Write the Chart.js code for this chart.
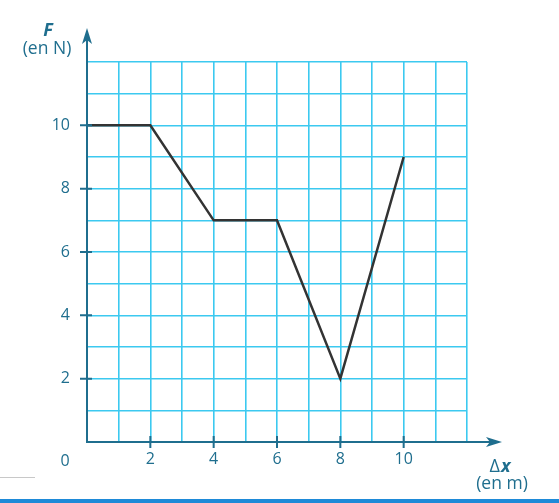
<!DOCTYPE html>
<html>
<head>
<meta charset="utf-8">
<title>F en fonction de Δx</title>
<script src="https://cdn.jsdelivr.net/npm/chart.js@4.4.0/dist/chart.umd.min.js"></script>
<style>
  html, body { margin: 0; padding: 0; background: #fff; }
  canvas { display: block; }
</style>
</head>
<body>
<canvas id="forceChart" width="559" height="503"></canvas>
<script>
// data
const xValues = [0, 2, 4, 6, 8, 10];
const forceValues = [10, 10, 7, 7, 2, 9];
const labeledTicks = [2, 4, 6, 8, 10];

const teal = '#1f6e8e';
const gridCyan = '#3cc9f0';
const labelFont = { family: 'Open Sans', size: 16 };

const points = xValues.map((x, i) => ({ x: x, y: forceValues[i] }));

// axis arrows, tick marks, corner labels
const decorations = {
  id: 'decorations',
  afterDraw(c) {
    const ctx = c.ctx;
    const xs = c.scales.x, ys = c.scales.y;
    const left = xs.getPixelForValue(0);
    const bottom = ys.getPixelForValue(0);
    ctx.save();
    ctx.strokeStyle = teal;
    ctx.fillStyle = teal;
    ctx.lineWidth = 2;

    // extend axes
    ctx.beginPath();
    ctx.moveTo(left, bottom);
    ctx.lineTo(left, 36);
    ctx.moveTo(left, bottom);
    ctx.lineTo(494, bottom);
    ctx.stroke();

    // arrowheads
    ctx.beginPath();
    ctx.moveTo(left, 28);
    ctx.lineTo(left + 5, 44);
    ctx.lineTo(left, 40);
    ctx.lineTo(left - 5, 44);
    ctx.closePath();
    ctx.fill();
    ctx.beginPath();
    ctx.moveTo(502, bottom);
    ctx.lineTo(486, bottom - 5);
    ctx.lineTo(490, bottom);
    ctx.lineTo(486, bottom + 5);
    ctx.closePath();
    ctx.fill();

    // tick marks
    ctx.beginPath();
    labeledTicks.forEach(v => {
      const px = xs.getPixelForValue(v);
      ctx.moveTo(px, bottom - 6);
      ctx.lineTo(px, bottom + 6);
      const py = ys.getPixelForValue(v);
      ctx.moveTo(left - 7, py);
      ctx.lineTo(left + 5, py);
    });
    ctx.stroke();

    // labels
    ctx.textAlign = 'center';
    ctx.textBaseline = 'middle';
    ctx.font = '16px "Open Sans"';
    ctx.fillText('0', 65, 461);
    ctx.font = '17.5px "Open Sans"';
    ctx.fillText('(en N)', 47, 49);
    ctx.fillText('(en m)', 502, 484);
    ctx.font = 'italic bold 18px "Open Sans"';
    ctx.fillText('F', 48, 31);
    ctx.font = '18px "Open Sans"';
    ctx.textAlign = 'right';
    ctx.fillText('Δ', 500, 467);
    ctx.font = 'italic bold 18px "Open Sans"';
    ctx.textAlign = 'left';
    ctx.fillText('x', 501, 467);

    // page decorations
    ctx.fillStyle = '#1e8ad8';
    ctx.fillRect(0, 499, 559, 4);
    ctx.strokeStyle = '#c8c8c8';
    ctx.lineWidth = 1;
    ctx.beginPath();
    ctx.moveTo(0, 477.5);
    ctx.lineTo(35, 477.5);
    ctx.stroke();
    ctx.restore();
  }
};

const tickLabel = v => labeledTicks.includes(v) ? String(v) : '';

new Chart(document.getElementById('forceChart'), {
  type: 'scatter',
  data: {
    datasets: [{
      data: points,
      showLine: true,
      borderColor: '#333333',
      borderWidth: 2.5,
      pointRadius: 0,
      fill: false,
      tension: 0
    }]
  },
  options: {
    responsive: false,
    animation: false,
    layout: { padding: { left: 47, right: 92, top: 62, bottom: 31 } },
    plugins: { legend: { display: false }, tooltip: { enabled: false } },
    scales: {
      x: {
        type: 'linear',
        min: 0, max: 12,
        afterFit: s => { s.height = 30; },
        grid: { color: gridCyan, lineWidth: 1.6, drawTicks: false },
        border: { color: teal, width: 2 },
        ticks: { stepSize: 1, autoSkip: false, maxRotation: 0, padding: 8,
                 color: teal, font: labelFont, callback: tickLabel }
      },
      y: {
        type: 'linear',
        min: 0, max: 12,
        afterFit: s => { s.width = 40; },
        grid: { color: gridCyan, lineWidth: 1.6, drawTicks: false },
        border: { color: teal, width: 2 },
        ticks: { stepSize: 1, autoSkip: false, padding: 17,
                 color: teal, font: labelFont, callback: tickLabel }
      }
    }
  },
  plugins: [decorations]
});
</script>
</body>
</html>
